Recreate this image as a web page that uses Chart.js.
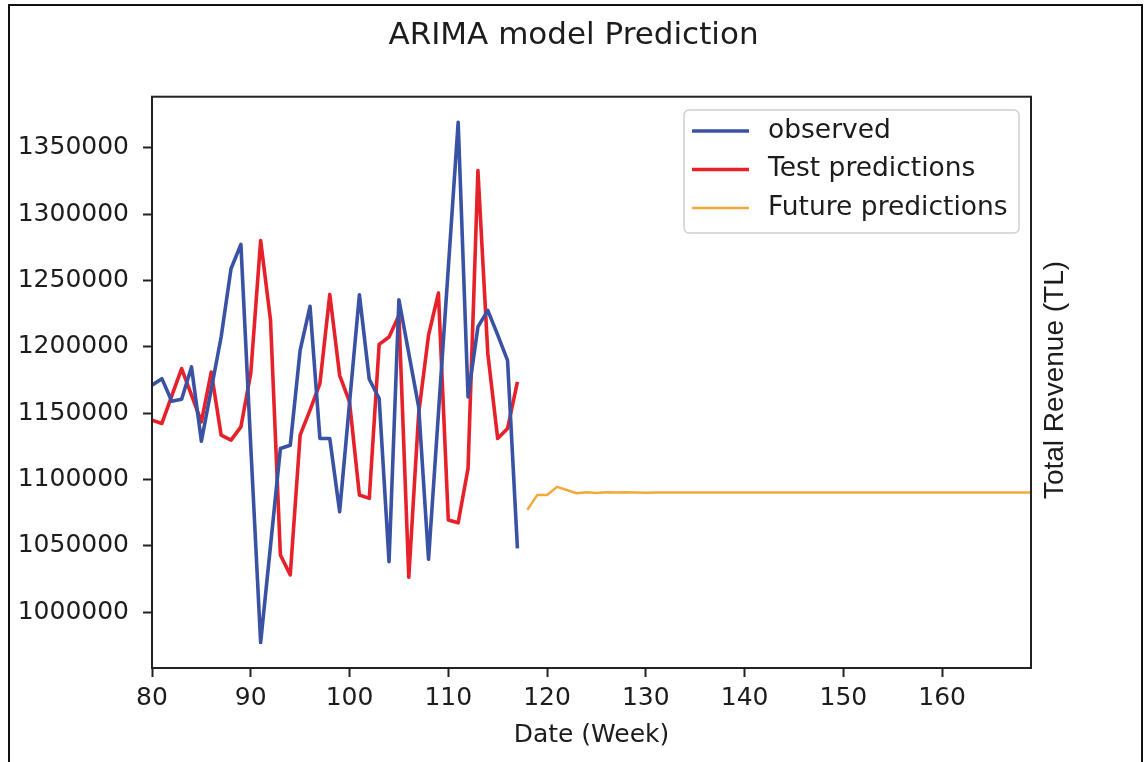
<!DOCTYPE html>
<html>
<head>
<meta charset="utf-8">
<script src="https://cdn.jsdelivr.net/npm/chart.js@4.4.1/dist/chart.umd.min.js"></script>
<style>
  html, body { margin: 0; padding: 0; background: #ffffff; }
  #wrap { width: 1147px; height: 762px; position: relative; }
</style>
</head>
<body>
<div id="wrap"><canvas id="c" width="1147" height="762"></canvas></div>
<script>
// Weeks covered by the observed series and the test-period forecasts
const testWeeks = [80, 81, 82, 83, 84, 85, 86, 87, 88, 89, 90, 91, 92, 93, 94, 95, 96, 97, 98,
  99, 100, 101, 102, 103, 104, 105, 106, 107, 108, 109, 110, 111, 112, 113, 114, 115, 116, 117];

// Weekly total revenue (TL)
const observed = [1171000, 1176000, 1159000, 1160500, 1184800, 1128800, 1168000, 1207400, 1258900, 1277200,
  1125000, 977000, 1050000, 1123300, 1125800, 1197400, 1230500, 1130900, 1130900, 1075600,
  1157700, 1239300, 1175500, 1161000, 1038000, 1235500, 1195000, 1154700, 1039800, 1149600,
  1259400, 1369300, 1162200, 1215000, 1227500, 1209000, 1189800, 1048000];

// ARIMA one-step predictions over the test weeks
const testPredictions = [1144700, 1142200, 1163000, 1183600, 1163500, 1143400, 1181000, 1133400, 1129600, 1139600,
  1180000, 1280200, 1220000, 1043000, 1028000, 1133400, 1152200, 1172200, 1239500, 1178500,
  1158400, 1088200, 1085700, 1201800, 1207400, 1223700, 1026200, 1149700, 1208700, 1240500,
  1069400, 1067300, 1108300, 1332900, 1195000, 1130900, 1138400, 1173500];

// Out-of-sample forecast horizon
const futureWeeks = [118, 119, 120, 121, 122, 123, 124, 125, 126, 127, 128, 129, 130, 131, 132, 133, 134,
  135, 136, 137, 138, 139, 140, 141, 142, 143, 144, 145, 146, 147, 148, 149, 150, 151, 152, 153,
  154, 155, 156, 157, 158, 159, 160, 161, 162, 163, 164, 165, 166, 167, 168, 169];

const futurePredictions = [1077000, 1088200, 1088200, 1094400, 1092000, 1089600, 1090400, 1089700, 1090400, 1090100,
  1090300, 1090200, 1090000, 1090100, 1090150, 1090100, 1090120, 1090100, 1090110, 1090100,
  1090100, 1090100, 1090100, 1090100, 1090100, 1090100, 1090100, 1090100, 1090100, 1090100,
  1090100, 1090100, 1090100, 1090100, 1090100, 1090100, 1090100, 1090100, 1090100, 1090100,
  1090100, 1090100, 1090100, 1090100, 1090100, 1090100, 1090100, 1090100, 1090100, 1090100,
  1090100, 1090100];

const xTicks = [80, 90, 100, 110, 120, 130, 140, 150, 160];
const yTicks = [1000000, 1050000, 1100000, 1150000, 1200000, 1250000, 1300000, 1350000];

const seriesNames = ['observed', 'Test predictions', 'Future predictions'];

const BLUE = '#3a52a3';
const RED = '#e6212a';
const ORANGE = '#f2a93b';
const INK = '#1c1c1c';
const FONT = "'DejaVu Sans', sans-serif";

const toPoints = (xs, ys) => xs.map((x, i) => ({ x: x, y: ys[i] }));

// Figure frame, axes box, legend and the right-hand axis caption
const decorations = {
  id: 'decorations',
  afterDraw(chart) {
    const ctx = chart.ctx;
    const a = chart.chartArea;
    ctx.save();

    // outer frame
    ctx.strokeStyle = '#111';
    ctx.lineWidth = 2;
    ctx.beginPath();
    ctx.moveTo(9, 770);
    ctx.lineTo(9, 5);
    ctx.lineTo(1142, 5);
    ctx.lineTo(1142, 770);
    ctx.stroke();

    // axes box
    ctx.strokeStyle = '#222';
    ctx.lineWidth = 2;
    ctx.strokeRect(a.left, a.top, a.right - a.left, a.bottom - a.top);

    // legend
    const lx = 684, ly = 110, lw = 335, lh = 123, r = 5;
    ctx.fillStyle = 'rgba(255,255,255,0.85)';
    ctx.strokeStyle = '#d0d0d0';
    ctx.lineWidth = 1.5;
    ctx.beginPath();
    ctx.moveTo(lx + r, ly);
    ctx.arcTo(lx + lw, ly, lx + lw, ly + lh, r);
    ctx.arcTo(lx + lw, ly + lh, lx, ly + lh, r);
    ctx.arcTo(lx, ly + lh, lx, ly, r);
    ctx.arcTo(lx, ly, lx + lw, ly, r);
    ctx.closePath();
    ctx.fill();
    ctx.stroke();

    const rows = [131, 169.5, 208];
    chart.data.datasets.forEach((ds, i) => {
      ctx.strokeStyle = ds.borderColor;
      ctx.lineWidth = ds.borderWidth;
      ctx.beginPath();
      ctx.moveTo(692, rows[i]);
      ctx.lineTo(749, rows[i]);
      ctx.stroke();
      ctx.fillStyle = INK;
      ctx.font = "26.5px " + FONT;
      ctx.textAlign = 'left';
      ctx.textBaseline = 'middle';
      ctx.fillText(ds.label, 768, rows[i]);
    });

    // right-hand caption
    ctx.translate(1055, 380);
    ctx.rotate(-Math.PI / 2);
    ctx.fillStyle = INK;
    ctx.font = "28px 'Liberation Sans', Arial, sans-serif";
    ctx.textAlign = 'center';
    ctx.textBaseline = 'middle';
    ctx.fillText('Total Revenue (TL)', 0, 0);
    ctx.restore();
  }
};

new Chart(document.getElementById('c'), {
  type: 'line',
  data: {
    datasets: [
      { label: seriesNames[0], data: toPoints(testWeeks, observed), borderColor: BLUE, borderWidth: 3.6 },
      { label: seriesNames[1], data: toPoints(testWeeks, testPredictions), borderColor: RED, borderWidth: 3.6 },
      { label: seriesNames[2], data: toPoints(futureWeeks, futurePredictions), borderColor: ORANGE, borderWidth: 2.5 }
    ]
  },
  options: {
    responsive: false,
    animation: false,
    devicePixelRatio: 1,
    layout: { padding: 0 },
    elements: {
      point: { radius: 0 },
      line: { tension: 0, fill: false, borderJoinStyle: 'round', borderCapStyle: 'butt' }
    },
    plugins: {
      legend: { display: false },
      tooltip: { enabled: false },
      title: {
        display: true,
        fullSize: true,
        text: 'ARIMA model Prediction',
        color: INK,
        font: { family: FONT, size: 31, weight: 'normal' },
        padding: { top: 17, bottom: 42.5 }
      }
    },
    scales: {
      x: {
        type: 'linear',
        min: 80,
        max: 169,
        afterFit(scale) { scale.height = 94; },
        afterBuildTicks(scale) { scale.ticks = xTicks.map(v => ({ value: v })); },
        grid: { display: true, drawOnChartArea: false, drawTicks: true, tickLength: 9, tickColor: '#222', tickWidth: 2 },
        border: { display: true, color: '#222', width: 2 },
        ticks: {
          color: INK,
          font: { family: FONT, size: 25 },
          padding: 6,
          maxRotation: 0,
          autoSkip: false,
          callback: v => String(v)
        },
        title: {
          display: true,
          text: 'Date (Week)',
          color: INK,
          font: { family: FONT, size: 25 },
          padding: { top: 0, bottom: 12 }
        }
      },
      y: {
        type: 'linear',
        min: 957800,
        max: 1388600,
        afterFit(scale) { scale.width = 152; },
        afterBuildTicks(scale) { scale.ticks = yTicks.map(v => ({ value: v })); },
        grid: { display: true, drawOnChartArea: false, drawTicks: true, tickLength: 9, tickColor: '#222', tickWidth: 2 },
        border: { display: true, color: '#222', width: 2 },
        ticks: {
          color: INK,
          font: { family: FONT, size: 25 },
          padding: 14,
          autoSkip: false,
          callback: v => String(v)
        }
      },
      // empty right-hand band that holds the revenue caption
      yRight: {
        type: 'linear',
        position: 'right',
        min: 957800,
        max: 1388600,
        afterFit(scale) { scale.width = 116; },
        grid: { display: false },
        border: { display: false },
        ticks: { display: false }
      }
    }
  },
  plugins: [decorations]
});
</script>
</body>
</html>
